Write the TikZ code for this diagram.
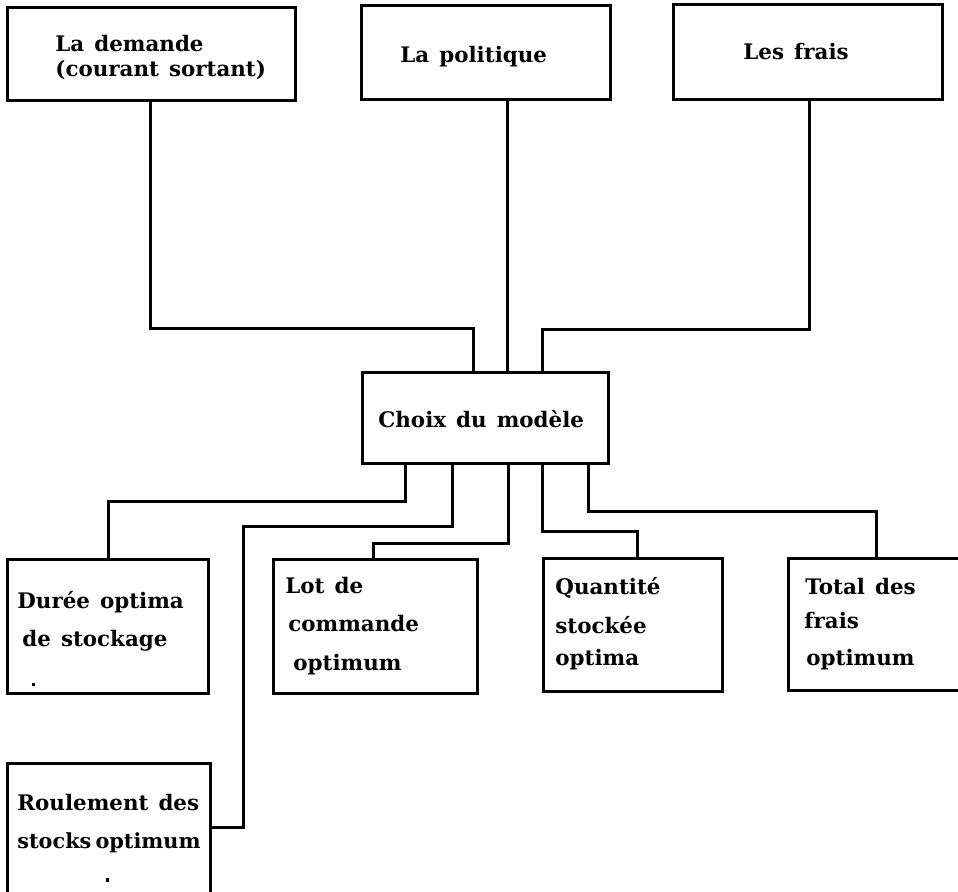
\documentclass[tikz,border=0pt]{standalone}
\usepackage{fontspec}
\setmainfont{DejaVu Serif}[WordSpace=1.35]
\usetikzlibrary{fit}
\tikzset{
  box/.style={draw, line width=1.5pt, rectangle, inner sep=0pt},
  txt/.style={anchor=base west, inner sep=0pt, font=\fontsize{10.7}{12}\selectfont\bfseries},
  link/.style={line width=1.5pt}
}
\begin{document}
\begin{tikzpicture}[x=0.5pt, y=-0.5pt]
\path[use as bounding box, clip] (0,0) rectangle (958,892);
\fill[white] (0,0) rectangle (958,892);
% boxes
\node[box, fit={(7,8) (295,101)}] (dem) {};
\node[box, fit={(361,6) (610,100)}] (pol) {};
\node[box, fit={(673,5) (942,100)}] (fra) {};
\node[box, fit={(362,373) (608,464)}] (cho) {};
\node[box, fit={(7,560) (208,693)}] (dur) {};
\node[box, fit={(273,560) (477,693)}] (lot) {};
\node[box, fit={(543,559) (722,691)}] (qua) {};
\node[box, fit={(788,559) (975,690)}] (tot) {};
\node[box, fit={(7,763) (210,910)}] (rou) {};
% texts
\node[txt] (t1a) at (55,52) {La demande};
\node[txt] (t1b) at (55,77) {(courant sortant)};
\node[txt] (t2) at (400,63) {La politique};
\node[txt] (t3) at (743,60) {Les frais};
\node[txt] (t4) at (378,428) {Choix du modèle};
\node[txt] (t5a) at (17,608) {Durée optima};
\node[txt] (t5b) at (22,646) {de stockage};
\node[txt] (t6a) at (285,593) {Lot de};
\node[txt] (t6b) at (288,632) {commande};
\node[txt] (t6c) at (293,670) {optimum};
\node[txt] (t7a) at (555,595) {Quantité};
\node[txt] (t7b) at (555,633) {stockée};
\node[txt] (t7c) at (555,665) {optima};
\node[txt] (t8a) at (805,595) {Total des};
\node[txt] (t8b) at (804,628) {frais};
\node[txt] (t8c) at (806,665) {optimum};
\node[txt] (t9a) at (17,810) {Roulement des};
\node[txt, font=\fontsize{10.4}{12}\selectfont\bfseries] (t9b) at (17,848) {stocks\hspace{0.2em}optimum};
\fill (32,683) rectangle (35,686);
\fill (106,878) rectangle (109,882);
% bend coordinates
\coordinate (b1) at (473,329);
\coordinate (b2) at (507,0);
\coordinate (b3) at (542,330);
\coordinate (d1) at (405,502);
\coordinate (d2) at (108,502);
\coordinate (r1) at (452,527);
\coordinate (r2) at (243,527);
\coordinate (r3) at (243,827);
\coordinate (l1) at (508,544);
\coordinate (l2) at (373,544);
\coordinate (q1) at (542,532);
\coordinate (q2) at (637,532);
\coordinate (s1) at (588,512);
\coordinate (s2) at (876,512);
% connectors
\draw[link] (dem.south -| 150,0) |- (b1) -- (b1 |- cho.north);
\draw[link] (pol.south -| b2) -- (cho.north -| b2);
\draw[link] (fra.south -| 809,0) |- (b3) -- (b3 |- cho.north);
\draw[link] (cho.south -| d1) -- (d1) -- (d2) -- (d2 |- dur.north);
\draw[link] (cho.south -| r1) -- (r1) -- (r2) -- (r3) -- (r3 -| rou.east);
\draw[link] (cho.south -| l1) -- (l1) -- (l2) -- (l2 |- lot.north);
\draw[link] (cho.south -| q1) -- (q1) -- (q2) -- (q2 |- qua.north);
\draw[link] (cho.south -| s1) -- (s1) -- (s2) -- (s2 |- tot.north);
\end{tikzpicture}
\end{document}
